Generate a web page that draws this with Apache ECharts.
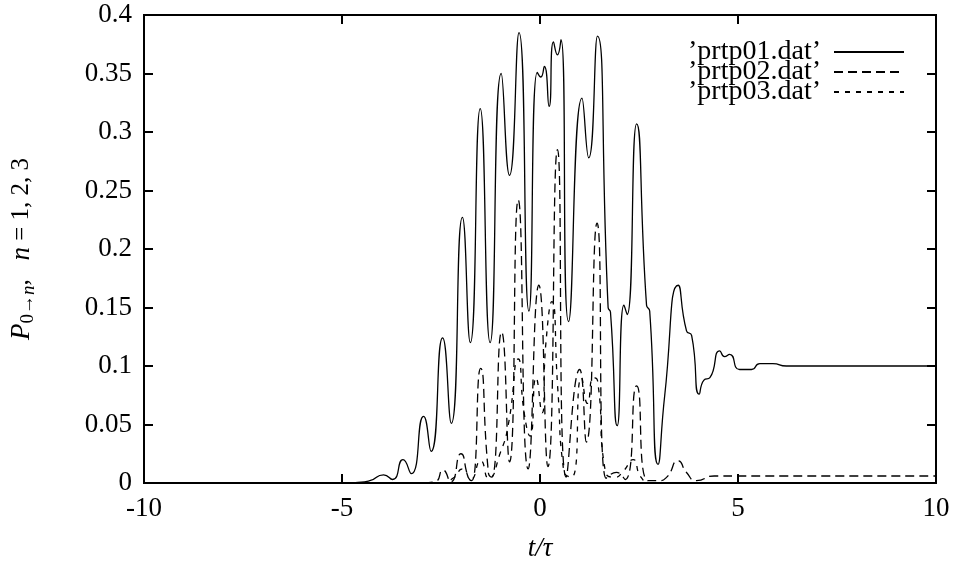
<!DOCTYPE html>
<html>
<head>
<meta charset="utf-8">
<script src="https://cdn.jsdelivr.net/npm/echarts@6/dist/echarts.min.js"></script>
<style>
  html, body { margin: 0; padding: 0; background: #fff; }
  #chart { width: 956px; height: 569px; }
</style>
</head>
<body>
<div id="chart"></div>
<script>
// series names as in the legend
const seriesNames = ["\u2019prtp01.dat\u2019", "\u2019prtp02.dat\u2019", "\u2019prtp03.dat\u2019"];

// [t/tau, P]
const prtp01 = [
  [-10, 0], [-5, 0], [-4.6, 0.0005], [-4.3, 0.002], [-3.95, 0.007], [-3.72, 0.003],
  [-3.46, 0.02], [-3.25, 0.008], [-2.94, 0.057], [-2.75, 0.027], [-2.46, 0.124],
  [-2.24, 0.051], [-1.96, 0.227], [-1.76, 0.12], [-1.51, 0.32], [-1.26, 0.12],
  [-0.98, 0.35], [-0.77, 0.263], [-0.53, 0.385], [-0.28, 0.147], [-0.07, 0.351],
  [0.02, 0.347], [0.11, 0.356], [0.23, 0.322], [0.34, 0.377], [0.44, 0.366],
  [0.53, 0.379], [0.72, 0.138], [1.06, 0.329], [1.23, 0.278], [1.45, 0.382],
  [1.72, 0.15], [1.78, 0.146], [1.95, 0.049], [2.12, 0.152], [2.2, 0.144],
  [2.44, 0.307], [2.69, 0.152], [2.77, 0.147], [2.98, 0.016], [3.15, 0.075],
  [3.49, 0.169], [3.7, 0.13], [3.83, 0.126], [4.02, 0.076], [4.14, 0.088],
  [4.29, 0.09], [4.54, 0.113], [4.66, 0.108], [4.79, 0.11], [5.04, 0.097],
  [5.34, 0.097], [5.55, 0.102], [5.88, 0.102], [6.22, 0.1], [7, 0.1], [10, 0.1]
];

const prtp02 = [
  [-10, 0], [-3, 0], [-2.65, 0.001], [-2.45, 0.011], [-2.25, 0.001], [-2.0, 0.025],
  [-1.8, 0.004], [-1.72, 0.002], [-1.5, 0.098], [-1.3, 0.008], [-1.22, 0.005],
  [-0.97, 0.129], [-0.77, 0.018], [-0.55, 0.242], [-0.3, 0.012], [-0.03, 0.169],
  [0.2, 0.014], [0.44, 0.285], [0.66, 0.005], [1.0, 0.097], [1.17, 0.035],
  [1.44, 0.222], [1.67, 0.004], [1.93, 0.009], [2.15, 0.003], [2.44, 0.083],
  [2.73, 0.002], [3.0, 0.002], [3.2, 0.005], [3.49, 0.019], [3.7, 0.009],
  [3.95, 0.002], [4.4, 0.006], [5, 0.006], [10, 0.006]
];

const prtp03 = [
  [-10, 0], [-2.5, 0], [-2.2, 0.004], [-1.95, 0.012], [-1.75, 0.003], [-1.5, 0.019],
  [-1.3, 0.004], [-1.0, 0.026], [-0.8, 0.05], [-0.55, 0.106], [-0.4, 0.06],
  [-0.25, 0.04], [-0.1, 0.09], [0.05, 0.06], [0.15, 0.12], [0.3, 0.155],
  [0.45, 0.08], [0.6, 0.01], [0.8, 0.005], [1.05, 0.09], [1.2, 0.068],
  [1.35, 0.09], [1.45, 0.088], [1.65, 0.01], [1.9, 0.005], [2.1, 0.01],
  [2.35, 0.02], [2.55, 0.005], [2.8, 0], [10, 0]
];

const xTicks = { min: -10, max: 10, step: 5 };
const yTicks = { min: 0, max: 0.4, step: 0.05 };

const serif = "Liberation Serif";
let chart = echarts.init(document.getElementById("chart"));

function mkLine(name, data, dash) {
  return {
    name: name,
    type: "line",
    data: data,
    smooth: 0.6,
    symbol: "none",
    lineStyle: { color: "#000", width: 1.3, type: dash },
    itemStyle: { color: "#000" },
    z: 3
  };
}

const tickStyle = { inside: true, length: 9, lineStyle: { color: "#000", width: 2 } };

let option = {
  backgroundColor: "#fff",
  animation: false,
  grid: {
    left: 143, right: 20, top: 15, bottom: 86,
    show: true, borderColor: "#000", borderWidth: 2, backgroundColor: "transparent"
  },
  legend: {
    right: 46, top: 33,
    orient: "vertical",
    align: "right",
    itemWidth: 70, itemHeight: 20, itemGap: -8,
    itemStyle: { opacity: 0 },
    textStyle: { fontFamily: serif, fontSize: 28, color: "#000", padding: [0, 8, 0, 0] },
    data: seriesNames
  },
  xAxis: [
    {
      type: "value", min: xTicks.min, max: xTicks.max, interval: xTicks.step,
      name: "t/\u03c4", nameLocation: "middle", nameGap: 52,
      nameTextStyle: { fontFamily: serif, fontSize: 27, fontStyle: "italic", color: "#000" },
      axisLine: { show: true, onZero: false, lineStyle: { color: "#000", width: 2 } },
      axisTick: tickStyle,
      axisLabel: { fontFamily: serif, fontSize: 27, color: "#000", margin: 12 },
      splitLine: { show: false }
    },
    {
      type: "value", position: "top", min: xTicks.min, max: xTicks.max, interval: xTicks.step,
      axisLine: { show: false, onZero: false },
      axisTick: tickStyle,
      axisLabel: { show: false },
      splitLine: { show: false }
    }
  ],
  yAxis: [
    {
      type: "value", min: yTicks.min, max: yTicks.max, interval: yTicks.step,
      name: "{i|P}{s|0\u2192}{si|n}{t|,   }{i|n}{t| = 1, 2, 3}",
      nameLocation: "middle", nameRotate: 90, nameGap: 106,
      nameTextStyle: {
        color: "#000",
        rich: {
          i: { fontFamily: serif, fontSize: 27, fontStyle: "italic", color: "#000" },
          s: { fontFamily: serif, fontSize: 19, color: "#000", verticalAlign: "bottom", padding: [14, 0, 0, 0] },
          si: { fontFamily: serif, fontSize: 19, fontStyle: "italic", color: "#000", verticalAlign: "bottom", padding: [14, 0, 0, 0] },
          t: { fontFamily: serif, fontSize: 25, color: "#000" }
        }
      },
      axisLine: { show: true, onZero: false, lineStyle: { color: "#000", width: 2 } },
      axisTick: tickStyle,
      axisLabel: { fontFamily: serif, fontSize: 27, color: "#000", margin: 12 },
      splitLine: { show: false }
    },
    {
      type: "value", position: "right", min: yTicks.min, max: yTicks.max, interval: yTicks.step,
      axisLine: { show: false, onZero: false },
      axisTick: tickStyle,
      axisLabel: { show: false },
      splitLine: { show: false }
    }
  ],
  series: [
    mkLine(seriesNames[0], prtp01, "solid"),
    mkLine(seriesNames[1], prtp02, [9, 5]),
    mkLine(seriesNames[2], prtp03, [5, 6])
  ]
};
option && chart.setOption(option);
</script>
</body>
</html>
